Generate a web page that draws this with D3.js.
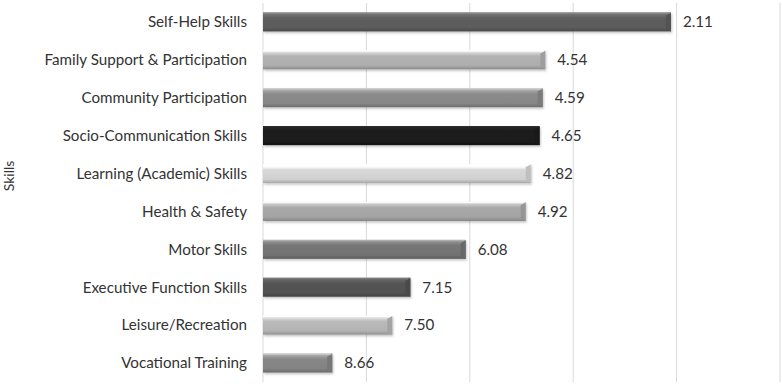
<!DOCTYPE html>
<html>
<head>
<meta charset="utf-8">
<script src="https://cdn.jsdelivr.net/npm/d3@7"></script>
<style>
  body { margin: 0; background: #fff; }
  svg { display: block; font-family: "Lato", "Open Sans", sans-serif; }
</style>
</head>
<body>
<svg id="chart" width="782" height="386"></svg>
<script>
// =========================
// DADES
// =========================
const skills = [
  "Self-Help Skills",
  "Family Support & Participation",
  "Community Participation",
  "Socio-Communication Skills",
  "Learning (Academic) Skills",
  "Health & Safety",
  "Motor Skills",
  "Executive Function Skills",
  "Leisure/Recreation",
  "Vocational Training"
];
const meanRanks = [2.11, 4.54, 4.59, 4.65, 4.82, 4.92, 6.08, 7.15, 7.50, 8.66];
const barColors = ["#5e5e5e", "#b3b3b3", "#8b8b8b", "#1c1c1c", "#d8d8d8",
                   "#a9a9a9", "#767676", "#545454", "#bababa", "#878787"];
const gridTicks = [10, 8, 6, 4, 2, 0];

// =========================
// ESCALES
// =========================
const svg = d3.select("#chart");
const plotLeft = 263, plotRight = 780, plotTop = 3, plotBottom = 382;

const x = d3.scaleLinear().domain([10, 0]).range([plotLeft, plotRight]);
const y = d3.scaleBand().domain(skills).range([plotTop, plotBottom])
  .paddingInner(0.5).paddingOuter(0.25);

const rows = skills.map((s, i) => ({ skill: s, value: meanRanks[i], color: barColors[i], i }));

// =========================
// GRADIENTS
// =========================
const defs = svg.append("defs");
rows.forEach(d => {
  const g = defs.append("linearGradient")
    .attr("id", `bar-grad-${d.i}`)
    .attr("x1", 0).attr("x2", 0).attr("y1", 0).attr("y2", 1);
  [
    { o: "0%", c: d3.color(d.color).brighter(0.9) },
    { o: "14%", c: d3.color(d.color).brighter(0.45) },
    { o: "30%", c: d3.color(d.color) },
    { o: "80%", c: d3.color(d.color).darker(0.1) },
    { o: "100%", c: d3.color(d.color).darker(0.7) }
  ].forEach(s => g.append("stop").attr("offset", s.o).attr("stop-color", s.c));
});

const shadow = defs.append("filter").attr("id", "shadow")
  .attr("x", "-5%").attr("y", "-20%").attr("width", "110%").attr("height", "160%");
shadow.append("feDropShadow").attr("dx", 1).attr("dy", 1.5)
  .attr("stdDeviation", 1).attr("flood-color", "#000").attr("flood-opacity", 0.25);

// =========================
// GRAELLA
// =========================
svg.append("g")
  .selectAll("line")
  .data(gridTicks)
  .join("line")
  .attr("x1", d => x(d)).attr("x2", d => x(d))
  .attr("y1", plotTop).attr("y2", plotBottom)
  .attr("stroke", "#d9d9d9")
  .attr("stroke-width", 1);

// =========================
// BARRES
// =========================
const bars = svg.append("g")
  .selectAll("g")
  .data(rows)
  .join("g");

bars.append("rect")
  .attr("x", x(10))
  .attr("y", d => y(d.skill))
  .attr("width", d => x(d.value) - x(10))
  .attr("height", y.bandwidth())
  .attr("fill", d => `url(#bar-grad-${d.i})`)
  .attr("filter", "url(#shadow)");

// bisell a l'extrem dret
const bev = 5;
bars.append("path")
  .attr("d", d => {
    const x1 = x(d.value), y0 = y(d.skill), h = y.bandwidth();
    return `M${x1 - bev},${y0 + 3} L${x1},${y0} L${x1},${y0 + h} L${x1 - bev},${y0 + h - 3} Z`;
  })
  .attr("fill", d => d3.color(d.color).darker(0.35));

bars.append("path")
  .attr("d", d => {
    const x1 = x(d.value), y0 = y(d.skill);
    return `M${x1 - bev},${y0 + 3} L${x1},${y0} L${x1 - 2},${y0} Z`;
  })
  .attr("fill", d => d3.color(d.color).brighter(0.8));

// vora superior clara
bars.append("rect")
  .attr("x", x(10))
  .attr("y", d => y(d.skill))
  .attr("width", d => x(d.value) - x(10) - 1)
  .attr("height", 1.2)
  .attr("fill", d => d3.color(d.color).brighter(1.1));

// =========================
// ETIQUETES
// =========================
svg.append("g")
  .selectAll("text")
  .data(rows)
  .join("text")
  .attr("x", 247)
  .attr("y", d => y(d.skill) + y.bandwidth() / 2)
  .attr("dy", "0.35em")
  .attr("text-anchor", "end")
  .text(d => d.skill)
  .style("font-size", "15.2px")
  .style("fill", "#333");

svg.append("g")
  .selectAll("text")
  .data(rows)
  .join("text")
  .attr("x", d => x(d.value) + 12)
  .attr("y", d => y(d.skill) + y.bandwidth() / 2)
  .attr("dy", "0.35em")
  .text(d => d.value.toFixed(2))
  .style("font-size", "15.2px")
  .style("fill", "#333");

svg.append("text")
  .attr("transform", "translate(14,176) rotate(-90)")
  .attr("text-anchor", "middle")
  .text("Skills")
  .style("font-size", "14px")
  .style("fill", "#333");
</script>
</body>
</html>
